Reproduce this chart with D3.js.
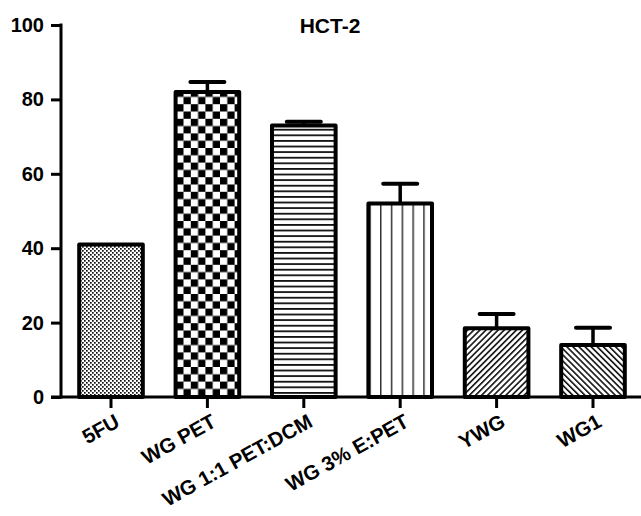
<!DOCTYPE html>
<html>
<head>
<meta charset="utf-8">
<script src="https://cdn.jsdelivr.net/npm/d3@7"></script>
<style>
  html, body { margin: 0; padding: 0; background: #fff; }
  svg { display: block; }
  text { font-family: "Liberation Sans", Arial, sans-serif; }
</style>
</head>
<body>
<svg id="chart" width="641" height="516"></svg>
<script>
// ---- data ----
const categories = ["5FU", "WG PET", "WG 1:1 PET:DCM", "WG 3% E:PET", "YWG", "WG1"];
const values = [41, 82, 73, 52, 18.5, 14];
const errors = [0, 2.7, 1, 5.3, 3.8, 4.6];
const patterns = ["dots", "checker", "hlines", "vlines", "diagUp", "diagDown"];
const yTicks = [0, 20, 40, 60, 80, 100];
const title = "HCT-2";

// ---- layout ----
const W = 641, H = 516;
const axisX = 61, axisTop = 25, axisBottom = 397;
const svg = d3.select("#chart");

const y = d3.scaleLinear().domain([0, 100]).range([axisBottom, axisTop]);
const x = d3.scaleBand().domain(categories).range([62.8, 641.2])
  .paddingInner(0.34).paddingOuter(0.17);

// ---- patterns ----
const defs = svg.append("defs");
// fine dots
let p = defs.append("pattern").attr("id", "dots").attr("patternUnits", "userSpaceOnUse")
  .attr("width", 4).attr("height", 4);
p.append("rect").attr("width", 4).attr("height", 4).attr("fill", "#fff");
p.append("rect").attr("x", 0).attr("y", 0).attr("width", 1.7).attr("height", 1.7).attr("fill", "#111");
p.append("rect").attr("x", 2).attr("y", 2).attr("width", 1.7).attr("height", 1.7).attr("fill", "#111");
// checker
const c = 7.3;
p = defs.append("pattern").attr("id", "checker").attr("patternUnits", "userSpaceOnUse")
  .attr("width", 2 * c).attr("height", 2 * c).attr("x", 1).attr("y", 2);
p.append("rect").attr("width", 2 * c).attr("height", 2 * c).attr("fill", "#fff");
p.append("rect").attr("x", 0).attr("y", 0).attr("width", c).attr("height", c).attr("fill", "#000");
p.append("rect").attr("x", c).attr("y", c).attr("width", c).attr("height", c).attr("fill", "#000");
// horizontal lines
p = defs.append("pattern").attr("id", "hlines").attr("patternUnits", "userSpaceOnUse")
  .attr("width", 10).attr("height", 5.6);
p.append("rect").attr("width", 10).attr("height", 5.6).attr("fill", "#fff");
p.append("rect").attr("x", 0).attr("y", 0).attr("width", 10).attr("height", 1.8).attr("fill", "#111");
// vertical lines
p = defs.append("pattern").attr("id", "vlines").attr("patternUnits", "userSpaceOnUse")
  .attr("width", 10.8).attr("height", 10).attr("x", 2);
p.append("rect").attr("width", 10.8).attr("height", 10).attr("fill", "#fff");
p.append("rect").attr("x", 0).attr("y", 0).attr("width", 1.5).attr("height", 10).attr("fill", "#333");
// diagonal up (/)
p = defs.append("pattern").attr("id", "diagUp").attr("patternUnits", "userSpaceOnUse")
  .attr("width", 4.3).attr("height", 10).attr("patternTransform", "rotate(45)");
p.append("rect").attr("width", 4.3).attr("height", 10).attr("fill", "#fff");
p.append("rect").attr("x", 0).attr("y", 0).attr("width", 1.6).attr("height", 10).attr("fill", "#111");
// diagonal down (\)
p = defs.append("pattern").attr("id", "diagDown").attr("patternUnits", "userSpaceOnUse")
  .attr("width", 4.3).attr("height", 10).attr("patternTransform", "rotate(-45)");
p.append("rect").attr("width", 4.3).attr("height", 10).attr("fill", "#fff");
p.append("rect").attr("x", 0).attr("y", 0).attr("width", 1.6).attr("height", 10).attr("fill", "#111");

// ---- error bars (behind bars) ----
const data = categories.map((k, i) => ({ k, v: values[i], e: errors[i], p: patterns[i] }));
const eg = svg.append("g");
data.filter(d => d.e > 0).forEach(d => {
  const cx = x(d.k) + x.bandwidth() / 2;
  eg.append("line").attr("x1", cx).attr("x2", cx).attr("y1", y(d.v)).attr("y2", y(d.v + d.e))
    .attr("stroke", "#000").attr("stroke-width", 3.5);
  eg.append("line").attr("x1", cx - 17).attr("x2", cx + 17).attr("y1", y(d.v + d.e)).attr("y2", y(d.v + d.e))
    .attr("stroke", "#000").attr("stroke-width", 4).attr("stroke-linecap", "round");
});

// ---- bars ----
svg.append("g").selectAll("rect").data(data).join("rect")
  .attr("x", d => x(d.k))
  .attr("y", d => y(d.v))
  .attr("width", x.bandwidth())
  .attr("height", d => y(0) - y(d.v))
  .attr("fill", d => `url(#${d.p})`)
  .attr("stroke", "#000").attr("stroke-width", 4).attr("stroke-linejoin", "round");

// ---- axes ----
const yAxis = svg.append("g").attr("transform", `translate(${axisX},0)`)
  .call(d3.axisLeft(y).tickValues(yTicks).tickSize(10).tickPadding(7).tickFormat(d3.format("d")));
yAxis.select(".domain").remove();
yAxis.append("line").attr("x1", 0).attr("x2", 0).attr("y1", axisTop - 1.5).attr("y2", axisBottom + 1.5)
  .attr("stroke", "#000").attr("stroke-width", 3);
yAxis.selectAll(".tick line").attr("stroke", "#000").attr("stroke-width", 3);
yAxis.selectAll(".tick text").attr("fill", "#000").attr("font-size", 20).attr("font-weight", "bold")
  .attr("font-family", "Liberation Sans, Arial, sans-serif");

const xAxis = svg.append("g").attr("transform", `translate(0,${axisBottom})`)
  .call(d3.axisBottom(x).tickSize(11).tickFormat(""));
xAxis.select(".domain").remove();
xAxis.append("line").attr("x1", axisX - 10).attr("x2", W).attr("y1", 0).attr("y2", 0)
  .attr("stroke", "#000").attr("stroke-width", 3);
xAxis.selectAll(".tick line").attr("stroke", "#000").attr("stroke-width", 3);

svg.append("g").selectAll("text").data(categories).join("text")
  .attr("transform", d => `translate(${x(d) + x.bandwidth() / 2 + 3},413) rotate(-29)`)
  .attr("text-anchor", "end").attr("dy", "0.71em")
  .attr("font-size", 20.5).attr("font-weight", "bold").attr("fill", "#000")
  .text(d => d);

// ---- title ----
svg.append("text").attr("x", 330).attr("y", 33).attr("text-anchor", "middle")
  .attr("font-size", 21).attr("font-weight", "bold").attr("fill", "#000").text(title);
</script>
</body>
</html>
